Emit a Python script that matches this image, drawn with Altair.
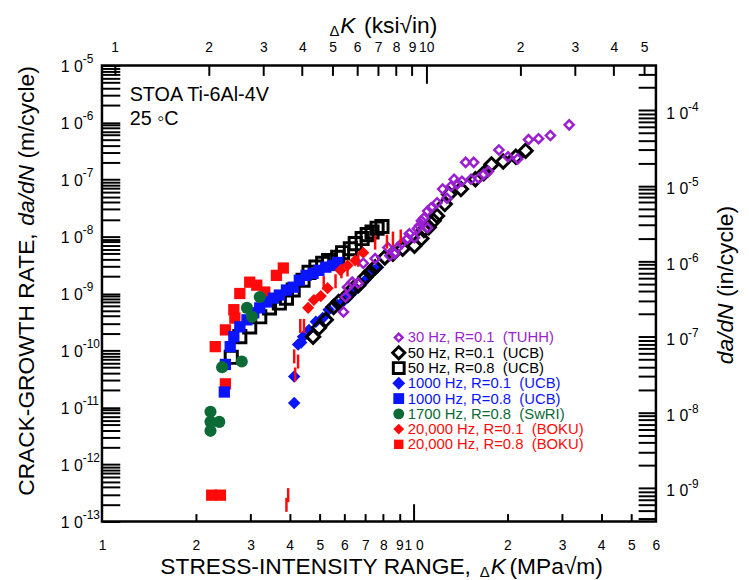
import altair as alt
import pandas as pd

FONT = "Liberation Sans"
PURPLE = "#9B1FD0"
BLUE = "#0A14FF"
GREEN = "#0B6A35"
RED = "#FF0A0A"

# ---------------- data (delta K in MPa*sqrt(m), da/dN in m/cycle) ----------------
tuhh30_r01_k = [31.6, 27.5, 25.2, 23.4, 18.8, 20.1, 21.6, 14.7, 15.6, 17.4, 16.8, 16.2, 15.3, 14.3,
                13.5, 13.8, 13.2, 12.4, 12.8, 11.9, 11.4, 11.1, 10.8, 10.6, 10.45, 11.1, 10.3, 9.7,
                9.57, 9.16, 10.07, 8.9, 8.7, 8.4, 8.27, 7.53, 6.9, 6.65, 6.36, 6.14, 6.05, 5.96]
tuhh30_r01_rate = [9.1e-7, 5.9e-7, 5.2e-7, 5.0e-7, 3.3e-7, 2.5e-7, 2.3e-7, 2.0e-7, 2.0e-7, 1.39e-7,
                   1.23e-7, 1.05e-7, 1.01e-7, 9.3e-8, 1.01e-7, 8.3e-8, 7.6e-8, 6.8e-8, 4.7e-8, 3.9e-8,
                   3.2e-8, 2.8e-8, 2.1e-8, 1.88e-8, 1.54e-8, 1.42e-8, 1.37e-8, 1.12e-8, 9.2e-9, 7.5e-9,
                   9.5e-9, 6.4e-9, 5.0e-9, 4.6e-9, 6.4e-9, 4.1e-9, 3.4e-9, 1.52e-9, 1.58e-9, 1.29e-9,
                   8.7e-10, 4.75e-10]

ucb50_r01_k = [4.76, 4.97, 5.23, 5.54, 5.75, 6.14, 6.41, 6.65, 7.0, 7.26, 7.53, 8.09, 8.59, 9.23,
               10.07, 10.6, 10.8, 11.2, 11.6, 11.9, 12.6, 13.0, 14.2, 15.8, 16.8, 17.8, 19.4, 21.3, 22.9]
ucb50_r01_rate = [1.75e-10, 2.5e-10, 3.45e-10, 5.8e-10, 7.1e-10, 9.4e-10, 1.24e-9, 1.40e-9, 1.93e-9,
                  2.35e-9, 2.9e-9, 4.3e-9, 5.0e-9, 6.1e-9, 6.9e-9, 9.2e-9, 1.3e-8, 1.45e-8, 1.88e-8,
                  2.3e-8, 3.7e-8, 5.5e-8, 6.8e-8, 1.01e-7, 1.28e-7, 1.84e-7, 2.07e-7, 2.5e-7, 3.2e-7]

ucb50_r08_k = [2.60, 2.77, 2.98, 3.21, 3.45, 3.71, 3.91, 4.11, 4.42, 4.62, 4.86, 5.11, 5.34, 5.71,
               5.92, 6.27, 6.50, 6.84, 7.10, 7.36, 7.64, 7.92]
ucb50_r08_rate = [7.6e-11, 1.75e-10, 2.6e-10, 3.9e-10, 5.6e-10, 6.8e-10, 8.3e-10, 1.15e-9, 1.71e-9,
                  2.35e-9, 2.9e-9, 3.4e-9, 3.8e-9, 4.3e-9, 5.2e-9, 6.1e-9, 7.5e-9, 9.2e-9, 1.08e-8,
                  1.2e-8, 1.4e-8, 1.5e-8]

ucb1000_r01_k = [4.14, 4.14, 4.26, 4.36, 4.42, 4.62, 4.86, 5.11, 5.34, 5.71, 5.92, 6.18, 6.50, 7.0,
                 7.41, 7.69]
ucb1000_r01_rate = [1.2e-11, 3.5e-11, 1.27e-10, 1.38e-10, 1.75e-10, 2.3e-10, 3.2e-10, 3.7e-10,
                    5.2e-10, 6.3e-10, 7.1e-10, 8.7e-10, 1.15e-9, 1.71e-9, 2.55e-9, 2.9e-9]

ucb1000_r08_k = [2.47, 2.49, 2.58, 2.65, 2.77, 2.92, 3.07, 3.21, 3.38, 3.55, 3.71, 3.91, 4.11, 4.30,
                 4.52, 4.76, 4.97, 5.23, 5.50, 5.71]
ucb1000_r08_rate = [1.87e-11, 5.7e-11, 1.17e-10, 1.75e-10, 2.6e-10, 3.45e-10, 4.6e-10, 5.6e-10,
                    7.1e-10, 8.3e-10, 9.4e-10, 1.15e-9, 1.29e-9, 1.71e-9, 2.08e-9, 2.26e-9, 2.55e-9,
                    2.9e-9, 3.1e-9, 3.5e-9]

swri1700_r08_k = [3.21, 2.92, 3.03, 2.43, 2.81, 2.23, 2.23, 2.38, 2.23]
swri1700_r08_rate = [8.7e-10, 5.6e-10, 3.9e-10, 5.1e-11, 6.4e-11, 8.4e-12, 5.6e-12, 5.6e-12, 3.9e-12]

boku20k_r01_k = [4.59, 4.79, 5.04, 5.30, 5.83, 6.14, 6.50, 6.90]
boku20k_r01_rate = [5.6e-10, 7.7e-10, 9.0e-10, 1.24e-9, 2.55e-9, 3.1e-9, 3.8e-9, 5.2e-9]

boku20k_r01_bar_k = [3.91, 3.96, 4.14, 4.17, 4.26, 4.33, 4.45, 5.15, 5.62, 5.87, 6.14, 6.65, 7.53,
                     8.22, 8.59, 9.1]
boku20k_r01_bar_rate = [1.96e-13, 2.9e-13, 7.9e-11, 3.8e-11, 6.4e-11, 2.7e-10, 2.7e-10, 1.52e-9,
                        1.64e-9, 2.45e-9, 2.65e-9, 3.9e-9, 7.8e-9, 8.1e-9, 9.2e-9, 1.0e-8]

boku20k_r08_k = [2.25, 2.40, 2.49, 2.31, 2.49, 2.67, 2.65, 2.77, 2.98, 3.14, 3.33, 3.63, 3.82]
boku20k_r08_rate = [2.9e-13, 2.9e-13, 2.6e-11, 1.17e-10, 2.3e-10, 3.7e-10, 5.2e-10, 1.0e-9, 1.58e-9,
                    1.40e-9, 1.06e-9, 2.08e-9, 2.8e-9]

legend_labels = [
    "30 Hz, R=0.1 \u00a0(TUHH)",
    "50 Hz, R=0.1 \u00a0(UCB)",
    "50 Hz, R=0.8 \u00a0(UCB)",
    "1000 Hz, R=0.1 \u00a0(UCB)",
    "1000 Hz, R=0.8 \u00a0(UCB)",
    "1700 Hz, R=0.8 \u00a0(SwRI)",
    "20,000 Hz, R=0.1 \u00a0(BOKU)",
    "20,000 Hz, R=0.8 \u00a0(BOKU)",
]
legend_text_colors = [PURPLE, "black", "black", BLUE, BLUE, GREEN, RED, RED]

# axis tick values
bottom_minor = [2, 3, 4, 5, 6, 7, 8, 9, 20, 30, 40, 50]
bottom_major = [10]
bottom_labels = [1, 2, 3, 4, 5, 6, 7, 8, 9, 10, 20, 30, 40, 50, 60]
top_minor = [1, 2, 3, 4, 5, 6, 7, 8, 9, 20, 30, 40, 50]
top_major = [10]
top_labels = [1, 2, 3, 4, 5, 6, 7, 8, 9, 10, 20, 30, 40, 50]
mantissas = [1, 2, 3, 4, 5, 6, 7, 8, 9]
left_decades = [-13, -12, -11, -10, -9, -8, -7, -6]
right_decades = [-10, -9, -8, -7, -6, -5, -4]
left_major = [1e-13, 1e-12, 1e-11, 1e-10, 1e-9, 1e-8, 1e-7, 1e-6, 1e-5]
right_major = [1e-9, 1e-8, 1e-7, 1e-6, 1e-5, 1e-4]

MPA_PER_KSI = 1.0988
RIGHT_DOMAIN = [3.6e-10, 3.9e-4]

left_ticks = [m * 10.0 ** d for d in left_decades for m in mantissas] + [1e-5]
right_ticks = [m * 10.0 ** d for d in right_decades for m in mantissas
               if RIGHT_DOMAIN[0] <= m * 10.0 ** d <= RIGHT_DOMAIN[1]]

# ---------------- scales ----------------
xs_m = alt.Scale(type="log", domain=[1, 60], nice=False)
ys_m = alt.Scale(type="log", domain=[1e-13, 1e-5], nice=False)
xs_ksi = alt.Scale(type="log", domain=[1 / MPA_PER_KSI, 60 / MPA_PER_KSI], nice=False)
ys_in = alt.Scale(type="log", domain=RIGHT_DOMAIN, nice=False)


def ax(vals, **kw):
    base = dict(values=vals, grid=False, title=None, domain=False, labelOverlap=False,
                labelFlush=False, tickColor="black", tickWidth=2, labelColor="black", labelFont=FONT)
    base.update(kw)
    return alt.Axis(**base)


def tick_axis(vals, **kw):
    return ax(vals, labels=False, ticks=True, **kw)


def label_axis(vals, **kw):
    return ax(vals, ticks=False, tickSize=0, **kw)


def x_layer(vals, scale, axis):
    return alt.Chart(pd.DataFrame({"v": vals})).mark_point(opacity=0).encode(
        x=alt.X("v:Q", scale=scale, axis=axis))


def y_layer(vals, scale, axis):
    return alt.Chart(pd.DataFrame({"v": vals})).mark_point(opacity=0).encode(
        y=alt.Y("v:Q", scale=scale, axis=axis))


EXP = "'' + round(log(datum.value) / LN10)"

axis_layers = [
    x_layer(bottom_minor, xs_m, tick_axis(bottom_minor, orient="bottom", tickSize=8, offset=-8)),
    x_layer(bottom_major, xs_m, tick_axis(bottom_major, orient="bottom", tickSize=18, offset=-18)),
    x_layer(bottom_labels, xs_m, label_axis(
        bottom_labels, orient="bottom", labelPadding=24, labelBaseline="middle", labelFontSize=14,
        labelExpr="datum.value > 10 ? '' + round(datum.value / 10) : (datum.value == 10 ? '1 0' : '' + datum.value)")),
    x_layer(top_minor, xs_ksi, tick_axis(top_minor, orient="top", tickSize=10, offset=-10)),
    x_layer(top_major, xs_ksi, tick_axis(top_major, orient="top", tickSize=18, offset=-18)),
    x_layer(top_labels, xs_ksi, label_axis(
        top_labels, orient="top", labelPadding=18, labelBaseline="middle", labelFontSize=14,
        labelExpr="datum.value > 10 ? '' + round(datum.value / 10) : '' + datum.value")),
    y_layer(left_ticks, ys_m, tick_axis(left_ticks, orient="left", tickSize=18, offset=-18)),
    y_layer(left_major, ys_m, label_axis(
        left_major, orient="left", labelPadding=20, labelAlign="right", labelBaseline="middle",
        labelFontSize=16, labelOffset=1, labelExpr="'1 0'")),
    y_layer(left_major, ys_m, label_axis(
        left_major, orient="left", labelPadding=20, labelAlign="left", labelBaseline="middle",
        labelFontSize=12, labelOffset=-7, labelExpr=EXP)),
    y_layer(right_ticks, ys_in, tick_axis(right_ticks, orient="right", tickSize=18, offset=-18)),
    y_layer(right_major, ys_in, label_axis(
        right_major, orient="right", labelPadding=10, labelAlign="left", labelBaseline="middle",
        labelFontSize=16, labelOffset=3, labelExpr="'1 0'")),
    y_layer(right_major, ys_in, label_axis(
        right_major, orient="right", labelPadding=32, labelAlign="left", labelBaseline="middle",
        labelFontSize=12, labelOffset=-4, labelExpr=EXP)),
]


def pts(k, r, **mk):
    style = dict(opacity=1)
    style.update(mk)
    return alt.Chart(pd.DataFrame({"k": k, "r": r})).mark_point(**style).encode(
        x=alt.X("k:Q", scale=xs_m, axis=None),
        y=alt.Y("r:Q", scale=ys_m, axis=None))


data_layers = [
    pts(boku20k_r08_k, boku20k_r08_rate, shape="square", filled=True, color=RED, size=130),
    pts(ucb50_r08_k, ucb50_r08_rate, shape="square", filled=False, color="black", size=150, strokeWidth=3),
    pts(ucb1000_r08_k, ucb1000_r08_rate, shape="square", filled=True, color=BLUE, size=130),
    pts(swri1700_r08_k, swri1700_r08_rate, shape="circle", filled=True, color=GREEN, size=150),
    pts(boku20k_r01_k, boku20k_r01_rate, shape="diamond", filled=True, color=RED, size=150),
    pts(ucb1000_r01_k, ucb1000_r01_rate, shape="diamond", filled=True, color=BLUE, size=160),
    pts(ucb50_r01_k, ucb50_r01_rate, shape="diamond", filled=False, color="black", size=180, strokeWidth=3),
    pts(tuhh30_r01_k, tuhh30_r01_rate, shape="diamond", filled=False, color=PURPLE, size=85, strokeWidth=2.5),
    pts(boku20k_r01_bar_k, boku20k_r01_bar_rate, shape="M0,-1L0,1", filled=False, color=RED, size=200, strokeWidth=2.5),
]

# ---------------- legend ----------------
leg_y = alt.Y("label:N", scale=alt.Scale(type="point", domain=legend_labels, range=[275, 383], padding=0),
              axis=None)
legend_marks = [
    dict(shape="diamond", filled=False, color=PURPLE, size=60, strokeWidth=2.5),
    dict(shape="diamond", filled=False, color="black", size=150, strokeWidth=3),
    dict(shape="square", filled=False, color="black", size=120, strokeWidth=3),
    dict(shape="diamond", filled=True, color=BLUE, size=170),
    dict(shape="square", filled=True, color=BLUE, size=120),
    dict(shape="circle", filled=True, color=GREEN, size=120),
    dict(shape="diamond", filled=True, color=RED, size=120),
    dict(shape="square", filled=True, color=RED, size=90),
]
legend_layers = []
for lab, mk in zip(legend_labels, legend_marks):
    legend_layers.append(
        alt.Chart(pd.DataFrame({"label": [lab]})).mark_point(opacity=1, **mk).encode(
            x=alt.value(300), y=leg_y))
legend_layers.append(
    alt.Chart(pd.DataFrame({"label": legend_labels})).mark_text(
        align="left", baseline="middle", font=FONT, fontSize=15).encode(
        x=alt.value(309), y=leg_y, text="label:N",
        color=alt.Color("label:N", scale=alt.Scale(domain=legend_labels, range=legend_text_colors),
                        legend=None)))


# ---------------- texts ----------------
def txt(s, x, y, size=23, angle=0, style="normal", align="left", baseline="alphabetic"):
    return alt.Chart(pd.DataFrame({"t": [s]})).mark_text(
        align=align, baseline=baseline, font=FONT, fontSize=size, angle=angle,
        fontStyle=style, color="black").encode(
        x=alt.value(x), y=alt.value(y), text="t:N")


text_layers = [
    txt("STOA Ti-6Al-4V", 28, 36, size=20),
    txt("25 \u25e6C", 28, 60, size=20),
    # bottom title
    txt("STRESS-INTENSITY RANGE,", 59, 514),
    txt("\u0394", 382, 517, size=15),
    txt("K", 393, 514, style="italic"),
    txt("(MPa\u221am)", 412, 514),
    # top title
    txt("\u0394", 230, -30, size=15),
    txt("K", 241, -33, style="italic"),
    txt("(ksi\u221ain)", 265, -33),
    # left title
    txt("CRACK-GROWTH RATE,", -69, 435, angle=270),
    txt("da/dN", -69, 162, angle=270, style="italic"),
    txt("(m/cycle)", -69, 94, angle=270),
    # right title
    txt("da/dN", 638, 302, angle=270, style="italic"),
    txt("(in/cycle)", 638, 234, angle=270),
]

chart = alt.layer(*axis_layers, *data_layers, *legend_layers, *text_layers).resolve_scale(
    x="independent", y="independent"
).properties(
    width=560, height=461,
    autosize=alt.AutoSizeParams(type="none"),
    padding={"left": 95, "top": 55, "right": 86, "bottom": 56},
    background="white",
).configure_view(stroke="black", strokeWidth=2.5)

chart.save("out.html", embed_options={"renderer": "svg", "actions": False})
